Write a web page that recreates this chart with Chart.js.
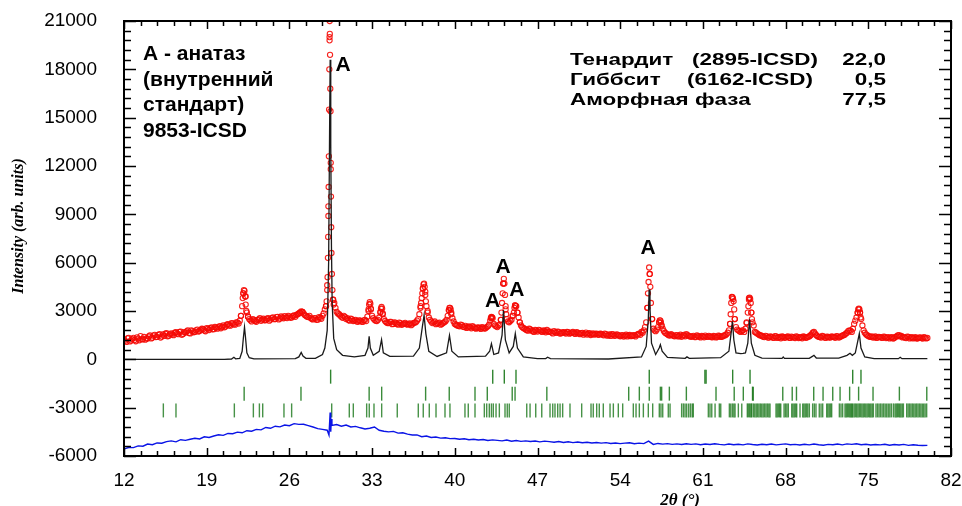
<!DOCTYPE html>
<html>
<head>
<meta charset="utf-8">
<script src="https://cdn.jsdelivr.net/npm/chart.js@4.4.1/dist/chart.umd.min.js"></script>
<style>
  html, body { margin: 0; padding: 0; background: #fff; }
  #xrd { display: block; }
</style>
</head>
<body>
<canvas id="xrd" width="962" height="506" style="width:962px;height:506px"></canvas>
<script>
// Axis ticks
const xTicks = [12, 19, 26, 33, 40, 47, 54, 61, 68, 75, 82];
const yTicks = [-6000, -3000, 0, 3000, 6000, 9000, 12000, 15000, 18000, 21000];

// Observed pattern, regular 2θ grid 12.0 .. 80.0, step 0.2
const obsStart = 12;
const obsStep = 0.2;
const obsCounts = [
  1210, 1080, 1330, 1170, 1330, 1120, 1290, 1440, 1240, 1220,
  1290, 1480, 1340, 1520, 1390, 1560, 1410, 1450, 1620, 1470,
  1610, 1500, 1680, 1560, 1720, 1580, 1660, 1790, 1610, 1750,
  1700, 1850, 1760, 1900, 1790, 1940, 1820, 1980, 1870, 1960,
  2000, 1930, 2100, 2040, 2180, 2090, 2230, 2150, 2290, 2400,
  3300, 4250, 2900, 2500, 2350, 2450, 2330, 2480, 2390, 2520,
  2430, 2560, 2470, 2600, 2500, 2640, 2530, 2600, 2680, 2560,
  2650, 2600, 2720, 2760, 2850, 2980, 2850, 2700, 2620, 2560,
  2480, 2540, 2460, 2580, 2700, 3100, 4600, 19800, 5300, 3500,
  2950, 2800, 2650, 2700, 2500, 2440, 2520, 2380, 2450, 2330,
  2400, 2320, 2450, 2650, 3550, 2700, 2450, 2380, 2600, 3250,
  2500, 2300, 2250, 2330, 2200, 2260, 2150, 2240, 2180, 2260,
  2150, 2230, 2170, 2280, 2400, 2800, 3800, 4700, 3300, 2600,
  2350, 2300, 2180, 2240, 2150, 2250, 2350, 2700, 3200, 2550,
  2200, 2100, 2050, 2120, 2000, 1950, 2040, 1930, 2000, 1900,
  1980, 1890, 1960, 1930, 2050, 2400, 2550, 2100, 2000, 2150,
  3500, 4700, 2500, 2300, 2450, 2900, 3300, 2600, 2100, 1950,
  1850, 1780, 1860, 1750, 1820, 1720, 1800, 1700, 1760, 1820,
  1700, 1660, 1750, 1640, 1710, 1620, 1690, 1600, 1680, 1630,
  1700, 1580, 1650, 1560, 1640, 1600, 1540, 1620, 1570, 1530,
  1600, 1520, 1580, 1490, 1560, 1500, 1450, 1540, 1480, 1520,
  1430, 1500, 1460, 1420, 1510, 1450, 1480, 1520, 1590, 1700,
  1800, 2300, 4800, 3500, 1900, 1750, 2000, 2400, 1900, 1650,
  1550, 1480, 1520, 1430, 1500, 1440, 1400, 1520, 1570, 1460,
  1400, 1460, 1380, 1440, 1360, 1420, 1470, 1390, 1430, 1370,
  1420, 1380, 1450, 1400, 1480, 1550, 1800, 3500, 3600, 2000,
  1800, 1700, 1800, 1900, 2900, 3750, 2300, 1700, 1600, 1500,
  1450, 1380, 1430, 1350, 1400, 1330, 1420, 1370, 1310, 1400,
  1350, 1420, 1330, 1380, 1320, 1400, 1360, 1310, 1390, 1350,
  1420, 1550, 1700, 1500, 1400, 1350, 1420, 1330, 1390, 1360,
  1400, 1340, 1420, 1380, 1470, 1530, 1650, 1800, 1700, 2200,
  2600, 3150, 2500, 1800, 1550, 1450, 1400, 1350, 1420, 1360,
  1380, 1330, 1400, 1350, 1300, 1370, 1320, 1420, 1500, 1450,
  1380, 1320, 1400, 1340, 1300, 1370, 1310, 1360, 1290, 1340,
  1330
];
// Observed pattern, interleaved grid 12.1 .. 79.9, step 0.2
const obsMidStart = 12.1;
const obsMidCounts = [
  1150, 1300, 1110, 1260, 1200, 1360, 1180, 1250, 1390, 1300,
  1420, 1300, 1470, 1380, 1500, 1350, 1540, 1590, 1430, 1560,
  1540, 1650, 1600, 1700, 1520, 1690, 1730, 1640, 1800, 1680,
  1800, 1720, 1830, 1870, 1740, 1900, 1930, 1860, 2010, 1900,
  2060, 2010, 1990, 2150, 2110, 2240, 2170, 2300, 2220, 2700,
  4100, 3900, 2650, 2420, 2500, 2380, 2440, 2550, 2460, 2420,
  2520, 2400, 2560, 2490, 2620, 2480, 2660, 2550, 2600, 2700,
  2580, 2690, 2640, 2800, 2900, 2950, 2750, 2640, 2700, 2500,
  2560, 2450, 2620, 2520, 2850, 3300, 9500, 11800, 3700, 3200,
  2850, 2720, 2580, 2640, 2550, 2400, 2480, 2420, 2350, 2410,
  2350, 2420, 2380, 3000, 3150, 2550, 2400, 2450, 2950, 2800,
  2380, 2250, 2330, 2180, 2300, 2200, 2280, 2140, 2220, 2190,
  2200, 2120, 2250, 2300, 2500, 3300, 4400, 4200, 3000, 2450,
  2250, 2350, 2220, 2280, 2190, 2300, 2450, 3050, 2900, 2350,
  2150, 2080, 2160, 2020, 2080, 1990, 2000, 2060, 1940, 1960,
  1940, 2000, 1910, 2000, 2150, 2600, 2200, 2050, 2100, 2450,
  4700, 3100, 2350, 2380, 2700, 3350, 2900, 2300, 2000, 1900,
  1810, 1900, 1790, 1700, 1780, 1830, 1740, 1790, 1680, 1740,
  1720, 1610, 1690, 1720, 1600, 1670, 1650, 1700, 1590, 1660,
  1620, 1680, 1600, 1620, 1530, 1660, 1600, 1510, 1610, 1580,
  1540, 1590, 1530, 1600, 1470, 1540, 1560, 1460, 1550, 1470,
  1480, 1410, 1530, 1480, 1440, 1500, 1420, 1560, 1520, 1650,
  2000, 3200, 5300, 2500, 1800, 1850, 2300, 2100, 1750, 1600,
  1500, 1560, 1460, 1490, 1420, 1530, 1470, 1430, 1500, 1420,
  1430, 1380, 1480, 1400, 1450, 1370, 1410, 1460, 1380, 1450,
  1360, 1470, 1390, 1440, 1500, 1650, 2200, 3850, 2500, 1850,
  1750, 1780, 1700, 2250, 3700, 2900, 2100, 1650, 1550, 1480,
  1400, 1460, 1350, 1420, 1360, 1440, 1330, 1390, 1420, 1340,
  1400, 1340, 1410, 1360, 1430, 1320, 1380, 1420, 1340, 1400,
  1480, 1650, 1600, 1430, 1380, 1450, 1360, 1410, 1350, 1420,
  1380, 1440, 1350, 1430, 1500, 1600, 1750, 1780, 1900, 2400,
  2900, 2900, 2100, 1650, 1500, 1400, 1430, 1380, 1330, 1400,
  1350, 1410, 1320, 1380, 1340, 1290, 1400, 1480, 1420, 1360,
  1350, 1410, 1300, 1380, 1330, 1290, 1350, 1320, 1380, 1300
];

// Extra observed points on the peak flanks [2θ, counts]
const obsPeakPts = [
  [21.9, 2700], [22.05, 3800], [22.1, 4100], [22.15, 4300], [22.25, 3900], [22.3, 3400], [22.35, 3000], [22.5, 2650],
  [26.9, 2900], [27.1, 2950],
  [29.10, 3300], [29.15, 3600], [29.20, 4300], [29.23, 5100], [29.26, 6300], [29.28, 7600], [29.30, 8900],
  [29.32, 10700], [29.34, 12600], [29.36, 15500], [29.38, 18000], [29.40, 20000], [29.41, 21000], [29.42, 20200],
  [29.44, 18900], [29.46, 16800], [29.48, 15400], [29.50, 12200], [29.52, 10100], [29.54, 8200], [29.56, 6600],
  [29.64, 4300], [29.70, 3700], [29.75, 3400],
  [32.7, 3100], [32.75, 3400], [32.85, 3450], [32.9, 3100], [33.7, 2900], [33.75, 3150], [33.85, 3150], [33.9, 2850],
  [37.1, 3200], [37.15, 3500], [37.25, 4100], [37.3, 4400], [37.35, 4650], [37.45, 4500], [37.5, 4000], [37.55, 3600], [37.7, 2900],
  [39.5, 3050], [39.55, 3200], [39.65, 3100], [39.7, 2800],
  [43.05, 2550], [43.1, 2630], [43.15, 2600], [43.9, 2450], [43.95, 2900], [44.05, 4100], [44.1, 4700], [44.15, 5000],
  [44.25, 4000], [44.3, 3300], [44.35, 2800],
  [44.9, 2700], [45.05, 3200], [45.1, 3350], [45.15, 3300], [45.3, 2900], [45.5, 2300],
  [56.3, 3200], [56.35, 4100], [56.45, 5700], [56.5, 5300], [56.55, 4500], [56.7, 2500],
  [57.3, 2300], [57.35, 2420], [57.45, 2300], [57.5, 2100],
  [63.3, 2200], [63.35, 2800], [63.45, 3870], [63.5, 3850], [63.55, 3750], [63.65, 3100], [63.7, 2500],
  [64.7, 2300], [64.85, 3300], [64.9, 3800], [64.95, 3830], [65.05, 3500], [65.1, 2900], [65.15, 2500],
  [74.1, 2900], [74.15, 3100], [74.25, 3100], [74.3, 2900], [74.35, 2600]
];

// Calculated crystalline pattern [2θ, counts]
const calcPts = [
  [12, 0], [20.5, 0], [21.1, 20], [21.3, 130], [21.45, 30], [21.8, 60], [22.0, 500], [22.1, 1300], [22.2, 2000],
  [22.28, 1400], [22.4, 400], [22.6, 100], [23, 30], [26.5, 40], [26.8, 150], [27.0, 430], [27.15, 200], [27.4, 60],
  [28.2, 60], [28.8, 300], [29.0, 700], [29.2, 1800], [29.32, 6000], [29.4, 14000], [29.45, 18600], [29.48, 13400],
  [29.52, 13400], [29.56, 7000], [29.62, 3500], [29.75, 1300], [30.0, 600], [30.5, 250], [31.5, 150], [32.4, 250],
  [32.65, 700], [32.75, 1430], [32.85, 700], [33.1, 250], [33.6, 500], [33.8, 1220], [33.95, 400], [34.5, 180],
  [36.5, 200], [37.0, 700], [37.25, 2000], [37.4, 2730], [37.55, 1600], [37.8, 500], [38.5, 180], [39.3, 400],
  [39.55, 1490], [39.75, 500], [40.3, 150], [42.6, 200], [42.95, 500], [43.1, 970], [43.3, 300], [43.7, 400],
  [44.0, 1500], [44.12, 3040], [44.28, 1200], [44.6, 400], [44.95, 800], [45.12, 1600], [45.3, 700], [45.8, 150],
  [47.0, 50], [47.7, 50], [47.85, 130], [48.1, 40], [53, 20], [55.8, 150], [56.2, 800], [56.38, 2500], [56.45, 4330],
  [56.52, 3200], [56.65, 1000], [57.0, 300], [57.3, 700], [57.4, 910], [57.55, 500], [58.0, 120], [59.5, 60],
  [59.65, 150], [59.85, 60], [62.5, 100], [63.2, 500], [63.4, 1700], [63.5, 2360], [63.62, 1200], [63.8, 400],
  [64.2, 350], [64.4, 370], [64.6, 400], [64.8, 1000], [64.95, 2480], [65.1, 1000], [65.4, 250], [66.0, 80],
  [67.7, 60], [67.8, 150], [67.9, 60], [70.0, 60], [70.3, 200], [70.4, 250], [70.6, 80], [72.5, 80], [73.2, 250],
  [73.45, 380], [73.65, 250], [73.9, 400], [74.1, 1100], [74.24, 1600], [74.38, 700], [74.7, 150], [75.5, 40],
  [77.55, 40], [77.7, 130], [77.85, 40], [80, 40]
];

// Difference curve, regular grid 12.0 .. 80.0, step 0.4
const diffStart = 12;
const diffStep = 0.4;
const diffCounts = [
  -5560, -5470, -5480, -5370, -5390, -5260, -5300, -5190, -5210, -5110,
  -5060, -5120, -4990, -5030, -4960, -4900, -4940, -4810, -4850, -4760,
  -4680, -4720, -4600, -4620, -4520, -4560, -4430, -4460, -4350, -4380,
  -4230, -4280, -4150, -4190, -4080, -4120, -3990, -4040, -4030, -4110,
  -4200, -4300, -4350, -4400, -4100, -4050, -4150, -4080, -4200, -4160,
  -4250, -4320, -4280, -4200, -4400, -4460, -4500, -4470, -4580, -4560,
  -4640, -4700, -4690, -4800, -4760, -4850, -4820, -4890, -4870, -4920,
  -4910, -4960, -4930, -4990, -4960, -5010, -4980, -5040, -5000, -5030,
  -5060, -5010, -5080, -5040, -5090, -5060, -5100, -5070, -5120, -5080,
  -5110, -5150, -5100, -5160, -5120, -5170, -5130, -5180, -5150, -5190,
  -5160, -5200, -5170, -5220, -5190, -5230, -5200, -5180, -5240, -5200,
  -5230, -5080, -5280, -5220, -5260, -5230, -5280, -5250, -5290, -5240,
  -5280, -5250, -5300, -5260, -5290, -5240, -5280, -5310, -5260, -5300,
  -5270, -5310, -5250, -5290, -5320, -5270, -5300, -5260, -5310, -5280,
  -5250, -5300, -5280, -5320, -5270, -5310, -5260, -5300, -5330, -5280,
  -5300, -5260, -5310, -5250, -5280, -5240, -5300, -5270, -5320, -5290,
  -5310, -5270, -5330, -5290, -5320, -5280, -5340, -5300, -5330, -5350,
  -5340
];
const diffSpikePts = [[29.35, -4700], [29.45, -3300], [29.5, -4500], [29.55, -3700]];

// Bragg positions (2θ) of the phases
const anatasePos = [29.49, 43.21, 44.19, 45.18, 56.46, 61.17, 61.27, 63.52, 64.99, 73.68, 74.38];
const thenarditePos = [
  22.17, 26.98, 32.75, 33.81, 37.53, 39.53, 41.71, 42.75, 44.86, 45.10, 47.79, 54.72, 55.62, 56.46, 57.40, 57.51,
  58.16, 59.60, 62.11, 63.65, 64.42, 65.20, 65.26, 67.76, 68.56, 68.92, 70.38, 71.17, 71.99, 72.61, 73.42, 74.18,
  75.40, 77.63, 79.95
];
const gibbsitePos = [
  15.33, 16.40, 21.34, 22.95, 23.46, 23.74, 25.54, 26.19, 29.58, 31.07, 31.41, 32.54, 32.76, 33.16, 33.81, 35.13,
  36.91, 37.33, 37.84, 38.41, 39.17, 39.59, 40.86, 41.14, 41.71, 42.50, 42.70, 42.92, 43.10, 43.26, 43.49, 43.77,
  44.25, 44.44, 44.61, 46.09, 46.37, 46.85, 47.36, 48.06, 48.29, 48.48, 48.71, 48.91, 49.13, 49.75, 50.74, 51.53,
  51.72, 52.01, 52.23, 52.57, 53.14, 53.42, 53.84, 54.21, 55.11, 55.34, 55.62, 55.96, 56.38, 56.75, 57.31, 57.45,
  57.60, 58.07, 58.22, 59.20, 59.35, 59.49, 59.63, 59.80, 59.95, 60.10, 60.19, 61.46, 61.60, 61.75, 62.03, 62.39,
  62.51, 63.24, 63.36, 63.50, 63.62, 63.72, 64.00, 64.29, 64.76, 64.86, 64.96, 65.06, 65.13, 65.27, 65.39, 65.51,
  65.62, 65.74, 65.86, 65.98, 66.10, 66.22, 66.34, 66.46, 66.58, 66.68, 67.19, 67.29, 67.40, 67.50, 67.59, 67.87,
  67.99, 68.11, 68.23, 68.52, 68.62, 68.73, 68.84, 68.94, 69.22, 69.45, 69.55, 69.66, 69.77, 69.88, 70.01, 70.29,
  70.43, 70.57, 70.85, 71.00, 71.14, 71.48, 71.58, 71.69, 71.80, 71.90, 72.55, 72.69, 72.83, 73.03, 73.13, 73.23,
  73.33, 73.43, 73.52, 73.60, 73.68, 73.80, 73.91, 74.02, 74.13, 74.24, 74.35, 74.46, 74.57, 74.68, 74.79, 74.90,
  75.01, 75.12, 75.22, 75.33, 75.43, 75.65, 75.78, 75.91, 76.04, 76.17, 76.30, 76.43, 76.56, 76.69, 76.82, 76.95,
  77.12, 77.26, 77.36, 77.46, 77.56, 77.66, 77.76, 77.87, 77.97, 78.25, 78.37, 78.49, 78.61, 78.73, 78.85, 78.97,
  79.09, 79.21, 79.33, 79.45, 79.57, 79.69, 79.81, 79.94
];
// intensity level of each row of Bragg markers
const braggRowLevel = [-1075, -2130, -3170];

// "A" anatase labels [2θ, intensity]
const anataseLabels = [[30.55, 18250], [43.19, 3590], [44.08, 5700], [45.26, 4300], [56.35, 6900]];

const phaseNames = ['Тенардит', 'Гиббсит', 'Аморфная фаза'];
const phaseCards = ['(2895-ICSD)', '(6162-ICSD)', ''];
const phaseShares = ['22,0', '0,5', '77,5'];
const standardNote = ['А - анатаз', '(внутренний', 'стандарт)', '9853-ICSD'];

const sans = "'Liberation Sans', Arial, sans-serif";
const serif = "'Liberation Serif', 'Times New Roman', serif";

const obsData = obsCounts.map((c, i) => ({ x: obsStart + i * obsStep, y: c }))
  .concat(obsMidCounts.map((c, i) => ({ x: obsMidStart + i * obsStep, y: c })))
  .concat(obsPeakPts.map(([x, y]) => ({ x, y })));
const calcData = calcPts.map(([x, y]) => ({ x, y }));
const diffData = diffCounts.map((c, i) => ({ x: diffStart + i * diffStep, y: c }))
  .concat(diffSpikePts.map(([x, y]) => ({ x, y })))
  .sort((a, b) => a.x - b.x);
const braggSet = (pos, lvl) => pos.map(p => ({ x: p, y: lvl }));

// no extra room for edge labels, the box is placed by layout.padding
const noEdgePad = s => { s.paddingLeft = 0; s.paddingRight = 0; s.paddingTop = 0; s.paddingBottom = 0; };

// box, inward ticks and all the texts
const framePlugin = {
  id: 'frame',
  afterDraw(chart) {
    const { ctx, chartArea: a, scales: { x, y } } = chart;
    ctx.save();
    ctx.strokeStyle = '#000';
    ctx.lineWidth = 1.5;
    const seg = (x1, y1, x2, y2) => { ctx.beginPath(); ctx.moveTo(x1, y1); ctx.lineTo(x2, y2); ctx.stroke(); };
    for (let k = 0; k <= 45; k++) {
      const v = -6000 + k * 600;
      const py = Math.round(y.getPixelForValue(v)) + 0.5;
      const len = k % 5 === 0 ? 12 : 7;
      seg(a.left, py, a.left + len, py);
      seg(a.right, py, a.right - len, py);
    }
    for (let k = 0; k <= 50; k++) {
      const v = 12 + k * 1.4;
      const px = Math.round(x.getPixelForValue(v)) + 0.5;
      const len = k % 5 === 0 ? 8 : 5;
      seg(px, a.bottom, px, a.bottom - len);
      seg(px, a.top, px, a.top + len);
    }
    ctx.lineWidth = 2;
    ctx.strokeRect(a.left, a.top, a.right - a.left, a.bottom - a.top);

    ctx.fillStyle = '#000';
    // anatase markers
    ctx.font = 'bold 21px ' + sans;
    ctx.textAlign = 'center';
    ctx.textBaseline = 'middle';
    anataseLabels.forEach(([t, v]) => ctx.fillText('A', x.getPixelForValue(t), y.getPixelForValue(v)));

    // internal standard note
    ctx.textAlign = 'left';
    ctx.textBaseline = 'alphabetic';
    standardNote.forEach((s, i) => ctx.fillText(s, a.left + 19, a.top + 39 + i * 25.6));

    // phase table (text is horizontally stretched in the source)
    ctx.font = 'bold 17px ' + sans;
    const stretch = 1.32;
    const row = (s, px, py, align) => {
      ctx.save();
      ctx.translate(px, py);
      ctx.scale(stretch, 1);
      ctx.textAlign = align;
      ctx.fillText(s, 0, 0);
      ctx.restore();
    };
    phaseNames.forEach((s, i) => {
      const py = a.top + 44 + i * 20;
      row(s, 570, py, 'left');
      if (phaseCards[i]) row(phaseCards[i], i === 0 ? 692 : 687, py, 'left');
      row(phaseShares[i], 886, py, 'right');
    });

    // axis titles
    ctx.font = 'italic bold 16px ' + serif;
    ctx.save();
    ctx.translate(19, 226);
    ctx.rotate(-Math.PI / 2);
    ctx.textAlign = 'center';
    ctx.textBaseline = 'middle';
    ctx.fillText('Intensity (arb. units)', 0, 0);
    ctx.restore();
    ctx.font = 'italic bold 17px ' + serif;
    ctx.textAlign = 'center';
    ctx.textBaseline = 'top';
    ctx.fillText('2θ (°)', 680, 492);
    ctx.restore();
  }
};

new Chart(document.getElementById('xrd'), {
  type: 'scatter',
  data: {
    datasets: [
      {
        label: 'calc', data: calcData, showLine: true, pointRadius: 0,
        borderColor: '#1a1a1a', borderWidth: 1.3
      },
      {
        label: 'obs', data: obsData, showLine: false, pointRadius: 2.6, pointBorderWidth: 1.1,
        pointBorderColor: 'rgba(245, 10, 5, 0.9)', pointBackgroundColor: 'rgba(255,255,255,0)'
      },
      {
        label: 'diff', data: diffData, showLine: true, pointRadius: 0,
        borderColor: '#0a14e6', borderWidth: 1.4
      },
      {
        label: 'anatase', data: braggSet(anatasePos, braggRowLevel[0]), pointStyle: 'line', pointRotation: 90,
        pointRadius: 7, pointBorderWidth: 1.4, pointBorderColor: 'rgba(10, 110, 10, 0.85)'
      },
      {
        label: 'thenardite', data: braggSet(thenarditePos, braggRowLevel[1]), pointStyle: 'line', pointRotation: 90,
        pointRadius: 7, pointBorderWidth: 1.4, pointBorderColor: 'rgba(10, 110, 10, 0.8)'
      },
      {
        label: 'gibbsite', data: braggSet(gibbsitePos, braggRowLevel[2]), pointStyle: 'line', pointRotation: 90,
        pointRadius: 7, pointBorderWidth: 1.4, pointBorderColor: 'rgba(10, 110, 10, 0.75)'
      }
    ]
  },
  options: {
    responsive: false,
    animation: false,
    layout: { padding: { top: 21, right: 11, left: 0, bottom: 0 } },
    plugins: { legend: { display: false }, tooltip: { enabled: false } },
    scales: {
      x: {
        type: 'linear', min: 12, max: 82,
        afterBuildTicks: s => { s.ticks = xTicks.map(v => ({ value: v })); },
        afterFit: s => { s.height = 50; noEdgePad(s); },
        grid: { display: false, drawTicks: false },
        border: { display: false },
        ticks: { padding: 13, color: '#000', font: { family: sans, size: 19 }, maxRotation: 0, autoSkip: false, callback: v => String(v) }
      },
      y: {
        type: 'linear', min: -6000, max: 21000,
        afterBuildTicks: s => { s.ticks = yTicks.map(v => ({ value: v })); },
        afterFit: s => { s.width = 124; noEdgePad(s); },
        grid: { display: false, drawTicks: false },
        border: { display: false },
        ticks: { padding: 27, color: '#000', font: { family: sans, size: 19 }, autoSkip: false, callback: v => String(v) }
      }
    }
  },
  plugins: [framePlugin]
});
</script>
</body>
</html>
